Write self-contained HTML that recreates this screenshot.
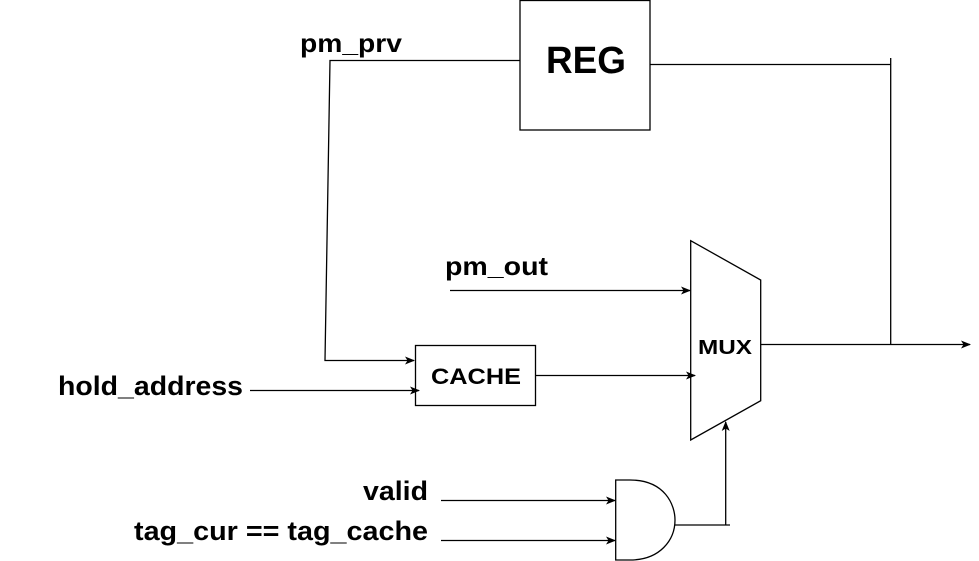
<!DOCTYPE html>
<html><head><style>html,body{margin:0;padding:0;background:#fff;}svg{display:block}</style></head>
<body>
<svg width="979" height="561" viewBox="0 0 979 561" xmlns="http://www.w3.org/2000/svg" font-family="'Liberation Sans', Arial, sans-serif" font-weight="bold">
<defs>
<marker id="a" markerWidth="10" markerHeight="8" refX="9" refY="4" orient="auto" markerUnits="userSpaceOnUse">
<path d="M0,0 L10,4 L0,8 L2.5,4 Z" fill="#000"/>
</marker>
</defs>
<g stroke="#000" stroke-width="1.3" fill="none">
<rect x="520" y="0.5" width="130" height="129.5" fill="#fff"/>
<rect x="415.5" y="345.5" width="120" height="60" fill="#fff"/>
<path d="M690.7,240.7 L760.7,280 L760.7,400.7 L690.7,440 Z" fill="#fff"/>
<path d="M615.7,480 L630,480 C665,480 675,505 675,520 C675,540 660,560 630,560 L615.7,560 Z" fill="#fff"/>
<polyline points="520,60.5 330,60.5 325,360.5 414,360.5" marker-end="url(#a)"/>
<line x1="250" y1="390.5" x2="419" y2="390.5" marker-end="url(#a)"/>
<line x1="450" y1="290.5" x2="690" y2="290.5" marker-end="url(#a)"/>
<line x1="535.5" y1="375.5" x2="695" y2="375.5" marker-end="url(#a)"/>
<line x1="441" y1="500.5" x2="615" y2="500.5" marker-end="url(#a)"/>
<line x1="441" y1="540.5" x2="615" y2="540.5" marker-end="url(#a)"/>
<polyline points="675,525 730,525"/>
<line x1="725.7" y1="525" x2="725.7" y2="422" marker-end="url(#a)"/>
<polyline points="650,64.5 890.7,64.5"/>
<line x1="890.7" y1="58" x2="890.7" y2="344.5"/>
<line x1="760.7" y1="344.5" x2="970" y2="344.5" marker-end="url(#a)"/>
</g>
<g fill="#000">
<text x="300" y="52" font-size="26" textLength="102" lengthAdjust="spacingAndGlyphs">pm_prv</text>
<text x="546" y="73" font-size="38" textLength="80" lengthAdjust="spacingAndGlyphs">REG</text>
<text x="445" y="275" font-size="26" textLength="103" lengthAdjust="spacingAndGlyphs">pm_out</text>
<text x="431" y="384" font-size="22" textLength="90" lengthAdjust="spacingAndGlyphs">CACHE</text>
<text x="698" y="354" font-size="20" textLength="54" lengthAdjust="spacingAndGlyphs">MUX</text>
<text x="58" y="395" font-size="27" textLength="185" lengthAdjust="spacingAndGlyphs">hold_address</text>
<text x="363" y="500" font-size="27" textLength="65" lengthAdjust="spacingAndGlyphs">valid</text>
<text x="134" y="540" font-size="27" textLength="294" lengthAdjust="spacingAndGlyphs">tag_cur == tag_cache</text>
</g>
</svg>
</body></html>
